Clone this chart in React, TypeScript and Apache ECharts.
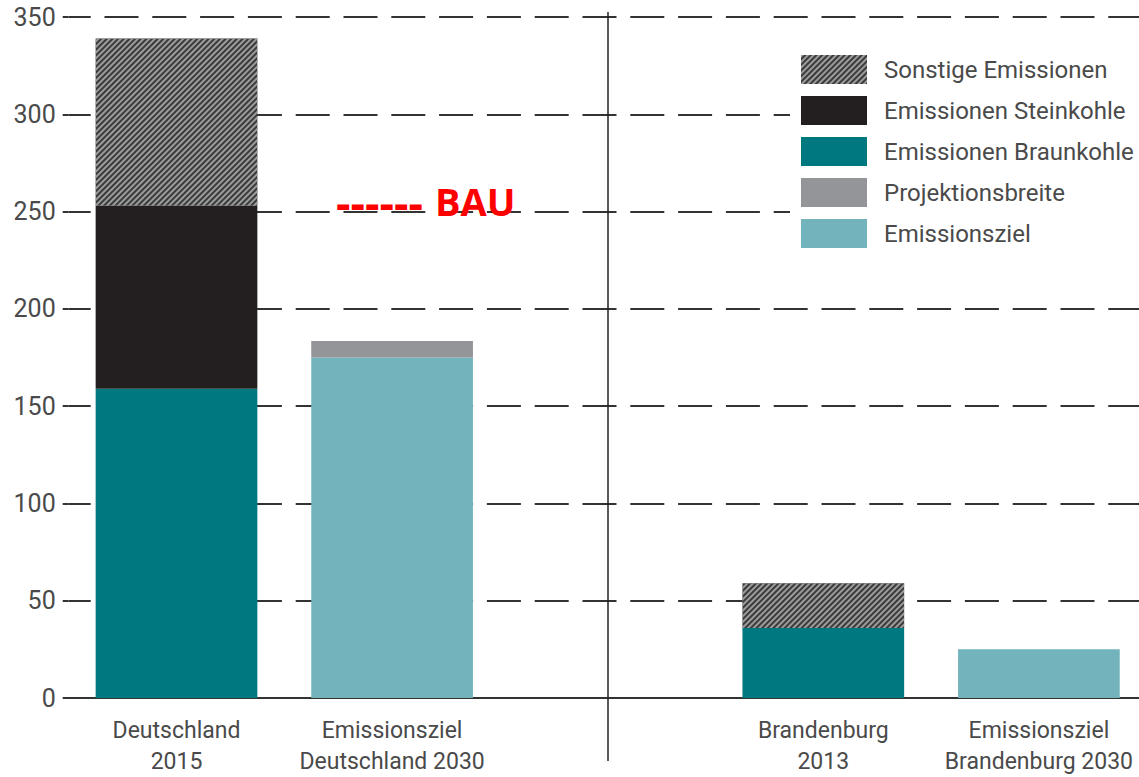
import React, { useEffect, useRef } from "react";
import * as echarts from "echarts";

const categories = [
  "Deutschland\n2015",
  "Emissionsziel\nDeutschland 2030",
  "",
  "Brandenburg\n2013",
  "Emissionsziel\nBrandenburg 2030",
];
const braunkohle: (number | string)[] = [159, "-", "-", 36, "-"];
const steinkohle: (number | string)[] = [94, "-", "-", "-", "-"];
const sonstige: (number | string)[] = [86, "-", "-", 23, "-"];
const emissionsziel: (number | string)[] = ["-", 175, "-", "-", 25];
const projektionsbreite: (number | string)[] = ["-", 8.5, "-", "-", "-"];
const yTicks = { min: 0, max: 350, interval: 50 };
const legendOrder = [
  "Sonstige Emissionen",
  "Emissionen Steinkohle",
  "Emissionen Braunkohle",
  "Projektionsbreite",
  "Emissionsziel",
];

const FONT = "Roboto, sans-serif";
const TEXT = "#4a4a4a";

export default function App() {
  const ref = useRef<HTMLDivElement>(null);
  useEffect(() => {
    if (!ref.current) return;
    const chart = echarts.init(ref.current, null, { renderer: "svg" });
    const bar = (name: string, data: any[], color: string, extra: any = {}) => ({
      name,
      type: "bar",
      stack: "total",
      data,
      barCategoryGap: "25%",
      itemStyle: { color, ...extra },
      emphasis: { disabled: true },
    });
    chart.setOption({
      animation: false,
      backgroundColor: "#ffffff",
      textStyle: { fontFamily: FONT },
      grid: { left: 68.7, width: 1078, top: 17, height: 681, outerBoundsMode: "none" },
      legend: {
        data: legendOrder,
        orient: "vertical",
        left: 790,
        top: 45,
        padding: [10, 30, 10, 11],
        backgroundColor: "#ffffff",
        itemWidth: 66,
        itemHeight: 29,
        itemGap: 12,
        icon: "rect",
        selectedMode: false,
        textStyle: { fontSize: 24, color: TEXT, fontFamily: FONT, padding: [0, 0, 0, 12] },
      },
      xAxis: {
        type: "category",
        data: categories,
        axisLine: { lineStyle: { color: "#333", width: 2 } },
        axisTick: { show: false },
        axisLabel: {
          interval: 0,
          fontSize: 23,
          lineHeight: 31,
          color: TEXT,
          margin: 17,
          fontFamily: FONT,
        },
      },
      yAxis: {
        type: "value",
        min: yTicks.min,
        max: yTicks.max,
        interval: yTicks.interval,
        axisLine: { show: false },
        axisTick: { show: true, length: 6, lineStyle: { color: "#333", width: 2 } },
        axisLabel: { fontSize: 25, color: TEXT, margin: 13, fontFamily: FONT },
        splitLine: {
          lineStyle: { color: "#333", width: 2, type: [34, 13.8], dashOffset: 11.5 },
        },
      },
      series: [
        bar("Emissionen Braunkohle", braunkohle, "#007880"),
        bar("Emissionen Steinkohle", steinkohle, "#231f20"),
        bar("Sonstige Emissionen", sonstige, "#3a3a3a", {
          decal: {
            symbol: "rect",
            symbolSize: 1,
            color: "#9c9c9c",
            dashArrayX: [1, 0],
            dashArrayY: [1.8, 1.8],
            rotation: -Math.PI / 4,
          },
        }),
        bar("Emissionsziel", emissionsziel, "#73b4bc"),
        bar("Projektionsbreite", projektionsbreite, "#939598"),
      ],
      graphic: [
        {
          type: "line",
          shape: { x1: 608, y1: 12, x2: 608, y2: 761 },
          style: { stroke: "#222", lineWidth: 1.5 },
          z: 10,
        },
        {
          type: "text",
          x: 336,
          y: 201,
          style: {
            text: "------",
            fill: "#ff0000",
            font: "bold 45px 'Open Sans', sans-serif",
            verticalAlign: "middle",
            align: "left",
          },
          z: 10,
        },
        {
          type: "text",
          x: 435,
          y: 201,
          style: {
            text: "BAU",
            fill: "#ff0000",
            font: "bold 38px 'Open Sans', sans-serif",
            verticalAlign: "middle",
            align: "left",
          },
          z: 10,
        },
      ],
    });
    return () => chart.dispose();
  }, []);
  return (
    <div
      ref={ref}
      style={{ position: "absolute", left: 0, top: 0, width: 1139, height: 777 }}
    />
  );
}
